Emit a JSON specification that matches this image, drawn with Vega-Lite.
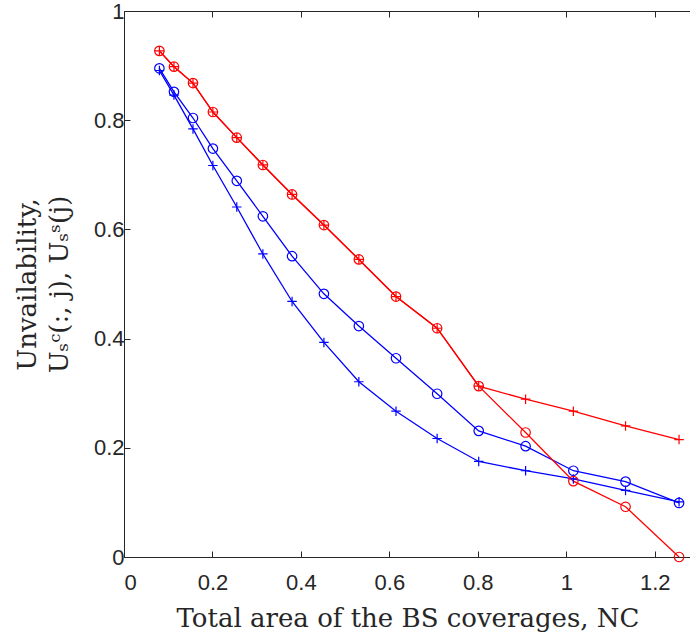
{
  "$schema": "https://vega.github.io/schema/vega-lite/v6.json",
  "width": 567,
  "height": 546,
  "autosize": {"type": "none"},
  "padding": {"left": 124, "top": 11, "right": 0, "bottom": 82},
  "background": "white",
  "config": {
    "view": {"stroke": "#262626", "strokeWidth": 1},
    "axis": {
      "domain": false,
      "grid": false,
      "tickColor": "#262626",
      "tickSize": -6,
      "tickWidth": 1,
      "labelColor": "#262626",
      "labelFont": "Liberation Sans",
      "labelFontSize": 22,
      "titleFont": "DejaVu Serif",
      "titleFontWeight": "normal",
      "titleColor": "#262626",
      "titleFontSize": 26
    }
  },
  "data": {
    "values": [
      {"x": 0.080, "y": 0.895, "s": "bc"},
      {"x": 0.113, "y": 0.852, "s": "bc"},
      {"x": 0.156, "y": 0.804, "s": "bc"},
      {"x": 0.201, "y": 0.748, "s": "bc"},
      {"x": 0.255, "y": 0.689, "s": "bc"},
      {"x": 0.314, "y": 0.624, "s": "bc"},
      {"x": 0.380, "y": 0.551, "s": "bc"},
      {"x": 0.452, "y": 0.482, "s": "bc"},
      {"x": 0.531, "y": 0.423, "s": "bc"},
      {"x": 0.615, "y": 0.364, "s": "bc"},
      {"x": 0.708, "y": 0.299, "s": "bc"},
      {"x": 0.802, "y": 0.231, "s": "bc"},
      {"x": 0.908, "y": 0.203, "s": "bc"},
      {"x": 1.016, "y": 0.158, "s": "bc"},
      {"x": 1.134, "y": 0.138, "s": "bc"},
      {"x": 1.255, "y": 0.099, "s": "bc"},
      {"x": 0.080, "y": 0.891, "s": "bp"},
      {"x": 0.113, "y": 0.846, "s": "bp"},
      {"x": 0.156, "y": 0.784, "s": "bp"},
      {"x": 0.201, "y": 0.717, "s": "bp"},
      {"x": 0.255, "y": 0.641, "s": "bp"},
      {"x": 0.314, "y": 0.555, "s": "bp"},
      {"x": 0.380, "y": 0.468, "s": "bp"},
      {"x": 0.452, "y": 0.393, "s": "bp"},
      {"x": 0.531, "y": 0.321, "s": "bp"},
      {"x": 0.615, "y": 0.267, "s": "bp"},
      {"x": 0.708, "y": 0.217, "s": "bp"},
      {"x": 0.802, "y": 0.175, "s": "bp"},
      {"x": 0.908, "y": 0.158, "s": "bp"},
      {"x": 1.016, "y": 0.143, "s": "bp"},
      {"x": 1.134, "y": 0.122, "s": "bp"},
      {"x": 1.255, "y": 0.101, "s": "bp"},
      {"x": 0.080, "y": 0.927, "s": "rc"},
      {"x": 0.113, "y": 0.898, "s": "rc"},
      {"x": 0.156, "y": 0.868, "s": "rc"},
      {"x": 0.201, "y": 0.815, "s": "rc"},
      {"x": 0.255, "y": 0.768, "s": "rc"},
      {"x": 0.314, "y": 0.718, "s": "rc"},
      {"x": 0.380, "y": 0.664, "s": "rc"},
      {"x": 0.452, "y": 0.608, "s": "rc"},
      {"x": 0.531, "y": 0.545, "s": "rc"},
      {"x": 0.615, "y": 0.477, "s": "rc"},
      {"x": 0.708, "y": 0.419, "s": "rc"},
      {"x": 0.802, "y": 0.313, "s": "rc"},
      {"x": 0.908, "y": 0.228, "s": "rc"},
      {"x": 1.016, "y": 0.139, "s": "rc"},
      {"x": 1.134, "y": 0.092, "s": "rc"},
      {"x": 1.255, "y": 0.0, "s": "rc"},
      {"x": 0.080, "y": 0.927, "s": "rp"},
      {"x": 0.113, "y": 0.898, "s": "rp"},
      {"x": 0.156, "y": 0.868, "s": "rp"},
      {"x": 0.201, "y": 0.815, "s": "rp"},
      {"x": 0.255, "y": 0.768, "s": "rp"},
      {"x": 0.314, "y": 0.718, "s": "rp"},
      {"x": 0.380, "y": 0.664, "s": "rp"},
      {"x": 0.452, "y": 0.608, "s": "rp"},
      {"x": 0.531, "y": 0.545, "s": "rp"},
      {"x": 0.615, "y": 0.477, "s": "rp"},
      {"x": 0.708, "y": 0.419, "s": "rp"},
      {"x": 0.802, "y": 0.313, "s": "rp"},
      {"x": 0.908, "y": 0.289, "s": "rp"},
      {"x": 1.016, "y": 0.267, "s": "rp"},
      {"x": 1.134, "y": 0.240, "s": "rp"},
      {"x": 1.255, "y": 0.215, "s": "rp"}
    ]
  },
  "resolve": {"axis": {"x": "independent", "y": "independent"}},
  "layer": [
    {
      "mark": {"type": "line", "strokeWidth": 1.3, "clip": false},
      "encoding": {
        "x": {"field": "x", "type": "quantitative", "scale": {"domain": [0, 1.282], "nice": false},
              "axis": {"orient": "top", "labels": false, "title": null, "values": [0, 0.2, 0.4, 0.6, 0.8, 1, 1.2]}},
        "y": {"field": "y", "type": "quantitative", "scale": {"domain": [0, 1], "nice": false}, "axis": null},
        "color": {"field": "s", "type": "nominal", "legend": null,
                  "scale": {"domain": ["bc", "bp", "rc", "rp"], "range": ["#0000ff", "#0000ff", "#ff0000", "#ff0000"]}},
        "detail": {"field": "s", "type": "nominal"}
      }
    },
    {
      "mark": {"type": "point", "filled": false, "strokeWidth": 1.2, "size": 90, "opacity": 1, "clip": false},
      "encoding": {
        "x": {"field": "x", "type": "quantitative",
              "axis": {"orient": "bottom", "values": [0, 0.2, 0.4, 0.6, 0.8, 1, 1.2], "format": "~g", "labelPadding": 21,
                       "title": "Total area of the BS coverages, NC", "titlePadding": 12}},
        "y": {"field": "y", "type": "quantitative",
              "axis": {"orient": "left", "values": [0, 0.2, 0.4, 0.6, 0.8, 1], "format": "~g", "labelPadding": 6,
                       "title": ["Unvailability,", "Uₛᶜ(:, j), Uₛˢ(j)"], "titlePadding": 21, "titleLineHeight": 32}},
        "color": {"field": "s", "type": "nominal", "legend": null},
        "shape": {"field": "s", "type": "nominal", "legend": null,
                  "scale": {"domain": ["bc", "bp", "rc", "rp"], "range": ["circle", "M-1,0H1M0,-1V1", "circle", "M-1,0H1M0,-1V1"]}}
      }
    }
  ]
}
